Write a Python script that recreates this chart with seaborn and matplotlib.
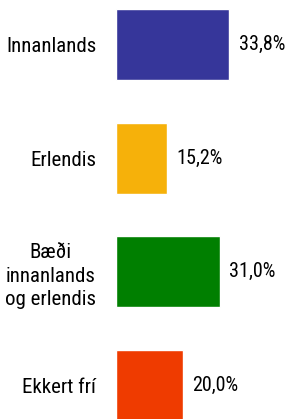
import seaborn as sns
import pandas as pd
import matplotlib
matplotlib.use("Agg")
from matplotlib import pyplot as plt

# data
categories = ["Innanlands", "Erlendis", "Bæði\ninnanlands\nog erlendis", "Ekkert frí"]
values = [33.8, 15.2, 31.0, 20.0]
colors = ["#36369a", "#f6b10a", "#007f00", "#ef3b00"]

df = pd.DataFrame({"cat": categories, "val": values})

sns.set_theme(style="white")
plt.rcParams["font.family"] = ["Roboto Condensed", "Liberation Sans", "DejaVu Sans"]

fig = plt.figure(figsize=(2.91, 4.19), dpi=100)
ax = fig.add_axes([115.7 / 291, 0, 1 - 115.7 / 291, 1])

sns.barplot(data=df, x="val", y="cat", hue="cat", palette=colors, legend=False,
            orient="h", width=0.625, ax=ax, saturation=1)

ax.set_xlim(0, 52.3)
ax.set_ylim(3.297, -0.392)
ax.set(xlabel=None, ylabel=None, xticks=[])
sns.despine(ax=ax, left=True, bottom=True, top=True, right=True)
ax.tick_params(axis="y", length=0, pad=14, labelsize=15, labelcolor="black")
for lab in ax.get_yticklabels():
    lab.set_multialignment("center")
    lab.set_linespacing(1.32)

for container in ax.containers:
    ax.bar_label(container, labels=[f"{v:.1f}%".replace(".", ",") for v in container.datavalues],
                 padding=7, fontsize=14.5, color="black")

fig.savefig("out.png", dpi=100)
